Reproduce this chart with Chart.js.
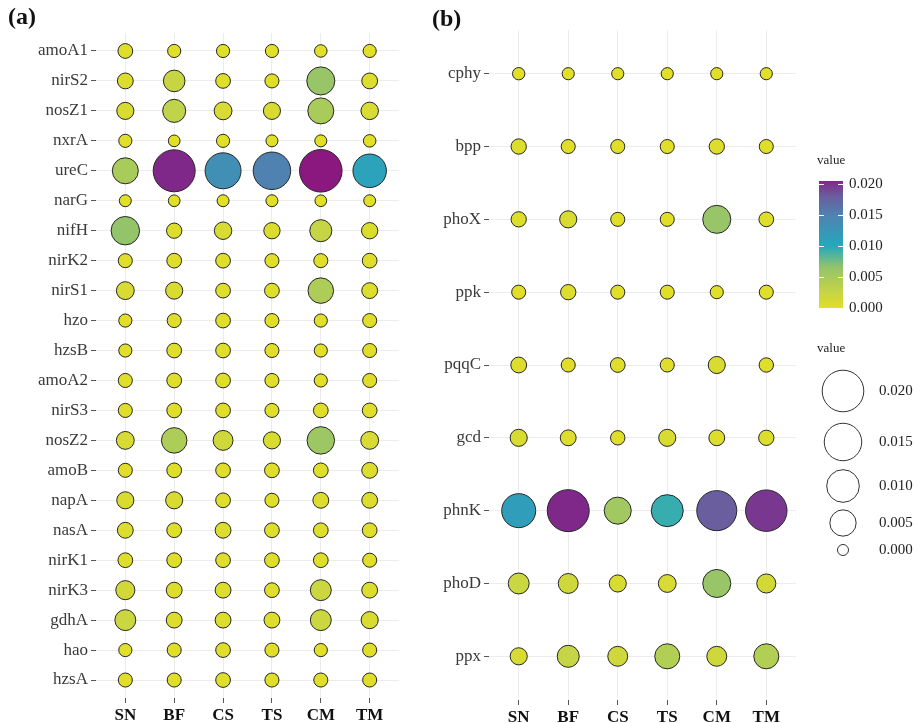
<!DOCTYPE html>
<html>
<head>
<meta charset="utf-8">
<script src="https://cdn.jsdelivr.net/npm/chart.js@4/dist/chart.umd.min.js"></script>
<style>
  html, body { margin: 0; padding: 0; background: #ffffff; }
  #wrap { position: relative; width: 921px; height: 723px; background: #ffffff; }
  canvas { position: absolute; top: 0; }
  #chartN { left: 0; }
  #chartP { left: 420px; }
</style>
</head>
<body>
<div id="wrap">
  <canvas id="chartN" width="410" height="723"></canvas>
  <canvas id="chartP" width="501" height="723"></canvas>
</div>
<script>
// Sampling sites (columns of both panels)
const sites = ['SN', 'BF', 'CS', 'TS', 'CM', 'TM'];

// (a) nitrogen-cycle genes, top to bottom
const nGenes = ['amoA1', 'nirS2', 'nosZ1', 'nxrA', 'ureC', 'narG', 'nifH', 'nirK2',
  'nirS1', 'hzo', 'hzsB', 'amoA2', 'nirS3', 'nosZ2', 'amoB', 'napA', 'nasA',
  'nirK1', 'nirK3', 'gdhA', 'hao', 'hzsA'];

// (a) relative abundance per gene (rows) and site (columns SN BF CS TS CM TM)
const nValues = [
  [0.0003, 0.0001, 0.0001, 0.0001, 0.00005, 0.0001],
  [0.0005, 0.0024, 0.0003, 0.0002, 0.0062, 0.0005],
  [0.0008, 0.0031, 0.0010, 0.0008, 0.0048, 0.0009],
  [0.0001, 0.00001, 0.0001, 0.00002, 0.00002, 0.00005],
  [0.0048, 0.0205, 0.0133, 0.0150, 0.0212, 0.0108],
  [0.00002, 0.00001, 0.00002, 0.00002, 0.00001, 0.00002],
  [0.0065, 0.0004, 0.0009, 0.0006, 0.0026, 0.0006],
  [0.0002, 0.0003, 0.0003, 0.0002, 0.0002, 0.0003],
  [0.0010, 0.0008, 0.0003, 0.0003, 0.0045, 0.0005],
  [0.0001, 0.0002, 0.0003, 0.0002, 0.0001, 0.0002],
  [0.0001, 0.0003, 0.0003, 0.0002, 0.0001, 0.0002],
  [0.0002, 0.0003, 0.0003, 0.0002, 0.0001, 0.0002],
  [0.0002, 0.0003, 0.0003, 0.0002, 0.0003, 0.0003],
  [0.0010, 0.0045, 0.0017, 0.0008, 0.0058, 0.0010],
  [0.0002, 0.0003, 0.0003, 0.0003, 0.0003, 0.0005],
  [0.0008, 0.0008, 0.0003, 0.0002, 0.0005, 0.0005],
  [0.0005, 0.0003, 0.0005, 0.0003, 0.0003, 0.0003],
  [0.0003, 0.0003, 0.0003, 0.0003, 0.0003, 0.0002],
  [0.0014, 0.0005, 0.0005, 0.0003, 0.0021, 0.0005],
  [0.0021, 0.0005, 0.0005, 0.0005, 0.0021, 0.0008],
  [0.0001, 0.0002, 0.0003, 0.0002, 0.0001, 0.0002],
  [0.0002, 0.0002, 0.0003, 0.0002, 0.0002, 0.0002]
];

// (b) phosphorus-cycle genes, top to bottom
const pGenes = ['cphy', 'bpp', 'phoX', 'ppk', 'pqqC', 'gcd', 'phnK', 'phoD', 'ppx'];

// (b) relative abundance per gene (rows) and site (columns SN BF CS TS CM TM)
const pValues = [
  [0.00004, 0.00003, 0.00003, 0.00003, 0.00003, 0.00003],
  [0.0004, 0.0002, 0.0002, 0.0002, 0.0004, 0.0002],
  [0.0004, 0.0008, 0.0002, 0.0002, 0.0062, 0.0003],
  [0.0002, 0.0004, 0.0002, 0.0002, 0.0001, 0.0002],
  [0.0005, 0.0002, 0.0003, 0.0002, 0.0008, 0.00025],
  [0.0008, 0.0005, 0.00025, 0.0008, 0.0005, 0.0004],
  [0.0113, 0.0205, 0.0055, 0.0094, 0.0180, 0.0198],
  [0.0021, 0.0017, 0.0008, 0.0010, 0.0062, 0.0014],
  [0.0008, 0.0026, 0.0017, 0.0042, 0.0017, 0.0042]
];

// Legend breaks
const legendBreaks = [0.020, 0.015, 0.010, 0.005, 0.000];

const SERIF = "'Liberation Serif', 'Times New Roman', serif";

// Fill colour ramp (value -> colour)
const colorStops = [
  [0.0000, [226, 223, 39]],
  [0.0030, [192, 211, 74]],
  [0.0065, [148, 196, 106]],
  [0.0100, [37, 168, 189]],
  [0.0150, [79, 130, 176]],
  [0.0180, [106, 94, 158]],
  [0.0205, [128, 40, 138]],
  [0.0212, [138, 24, 126]]
];
function colorOf(v) {
  if (v <= colorStops[0][0]) return rgb(colorStops[0][1]);
  for (let i = 1; i < colorStops.length; i++) {
    const [v1, c1] = colorStops[i];
    if (v <= v1) {
      const [v0, c0] = colorStops[i - 1];
      const t = (v - v0) / (v1 - v0);
      return rgb(c0.map((c, k) => c + (c1[k] - c) * t));
    }
  }
  return rgb(colorStops[colorStops.length - 1][1]);
}
function rgb(c) { return `rgb(${Math.round(c[0])},${Math.round(c[1])},${Math.round(c[2])})`; }

// Point size: diameter grows with sqrt(value) (area scale)
const SIZE_REF = 0.0205;
function diameterOf(v) { return 12 + 31 * Math.sqrt(Math.max(v, 0) / SIZE_REF); }
function radiusOf(v) { return diameterOf(v) / 2 - 0.5; }

// Bold "(a)" / "(b)" panel tags
const panelTag = {
  id: 'panelTag',
  afterDraw(chart, args, o) {
    const c = chart.ctx;
    c.save();
    c.font = `bold 24px ${SERIF}`;
    c.fillStyle = '#111';
    c.textBaseline = 'middle';
    c.textAlign = 'left';
    c.fillText(o.text, o.x, o.y);
    c.restore();
  }
};

// Colour bar and size key, drawn to the right of panel (b)
const valueLegends = {
  id: 'valueLegends',
  afterDraw(chart, args, o) {
    if (!o.show) return;
    const c = chart.ctx;
    const ox = o.offsetX;
    c.save();
    // colour bar
    const barL = 819 - ox, barW = 24, barT = 181, barB = 308;
    const vmax = Math.max(...pValues.flat());
    c.font = `13px ${SERIF}`;
    c.fillStyle = '#222';
    c.textBaseline = 'middle';
    c.textAlign = 'left';
    c.fillText('value', 817 - ox, 161);
    const grad = c.createLinearGradient(0, barB, 0, barT);
    colorStops.forEach(([v, col]) => {
      if (v <= vmax) grad.addColorStop(v / vmax, rgb(col));
    });
    grad.addColorStop(1, colorOf(vmax));
    c.fillStyle = grad;
    c.fillRect(barL, barT, barW, barB - barT);
    c.strokeStyle = '#ffffff';
    c.lineWidth = 1;
    c.font = `15px ${SERIF}`;
    c.fillStyle = '#222';
    legendBreaks.forEach(b => {
      const y = Math.round(barB - (b / vmax) * (barB - barT)) + 0.5;
      c.beginPath();
      c.moveTo(barL, y); c.lineTo(barL + 5, y);
      c.moveTo(barL + barW - 5, y); c.lineTo(barL + barW, y);
      c.stroke();
      c.fillText(b.toFixed(3), 849 - ox, y);
    });
    // size key
    c.font = `13px ${SERIF}`;
    c.fillText('value', 817 - ox, 349);
    c.font = `15px ${SERIF}`;
    const keyY = [391, 442, 486, 523, 550];
    c.strokeStyle = '#333';
    legendBreaks.forEach((b, i) => {
      c.beginPath();
      c.arc(843 - ox, keyY[i], diameterOf(b) / 2 - 0.5, 0, Math.PI * 2);
      c.stroke();
      c.fillText(b.toFixed(3), 879 - ox, keyY[i]);
    });
    c.restore();
  }
};

function buildPanel(canvasId, genes, values, o) {
  const pts = [];
  genes.forEach((g, r) => sites.forEach((s, k) => pts.push({ x: k, y: r, v: values[r][k] })));
  const gridStyle = { color: '#ECECEC', lineWidth: 1, tickColor: '#555', tickLength: 5, tickWidth: 1 };
  return new Chart(document.getElementById(canvasId), {
    type: 'bubble',
    data: {
      datasets: [{
        data: pts,
        radius: ctx => radiusOf(ctx.raw.v),
        hoverRadius: 0,
        backgroundColor: ctx => colorOf(ctx.raw.v),
        borderColor: '#262626',
        borderWidth: 1,
        clip: false
      }]
    },
    options: {
      responsive: false,
      animation: false,
      devicePixelRatio: 1,
      events: [],
      layout: { autoPadding: false, padding: { left: 0, right: o.padRight, top: o.padTop, bottom: 0 } },
      plugins: {
        legend: { display: false },
        tooltip: { enabled: false },
        panelTag: { text: o.tag, x: o.tagX, y: o.tagY },
        valueLegends: { show: !!o.legend, offsetX: o.offsetX || 0 }
      },
      scales: {
        x: {
          type: 'linear', position: 'bottom',
          min: -0.6, max: sites.length - 1 + 0.6,
          afterBuildTicks: s => { s.ticks = sites.map((_, i) => ({ value: i })); },
          afterFit: s => { s.height = o.xAxisH; },
          ticks: {
            callback: v => sites[v], autoSkip: false, maxRotation: 0, padding: 2,
            color: '#111', font: { family: SERIF, size: 17, weight: 'bold' }
          },
          grid: gridStyle,
          border: { display: false }
        },
        y: {
          type: 'linear', reverse: true,
          min: -0.6, max: genes.length - 1 + 0.6,
          afterBuildTicks: s => { s.ticks = genes.map((_, i) => ({ value: i })); },
          afterFit: s => { s.width = o.yAxisW; },
          ticks: {
            callback: v => genes[v], autoSkip: false, padding: 3,
            color: '#3a3a3a', font: { family: SERIF, size: 17 }
          },
          grid: gridStyle,
          border: { display: false }
        }
      }
    },
    plugins: [panelTag, valueLegends]
  });
}

buildPanel('chartN', nGenes, nValues, {
  tag: '(a)', tagX: 8, tagY: 18,
  padRight: 11, padTop: 33, xAxisH: 25, yAxisW: 96
});
buildPanel('chartP', pGenes, pValues, {
  tag: '(b)', tagX: 12, tagY: 20,
  padRight: 125, padTop: 30, xAxisH: 23, yAxisW: 69,
  legend: true, offsetX: 420
});
</script>
</body>
</html>
